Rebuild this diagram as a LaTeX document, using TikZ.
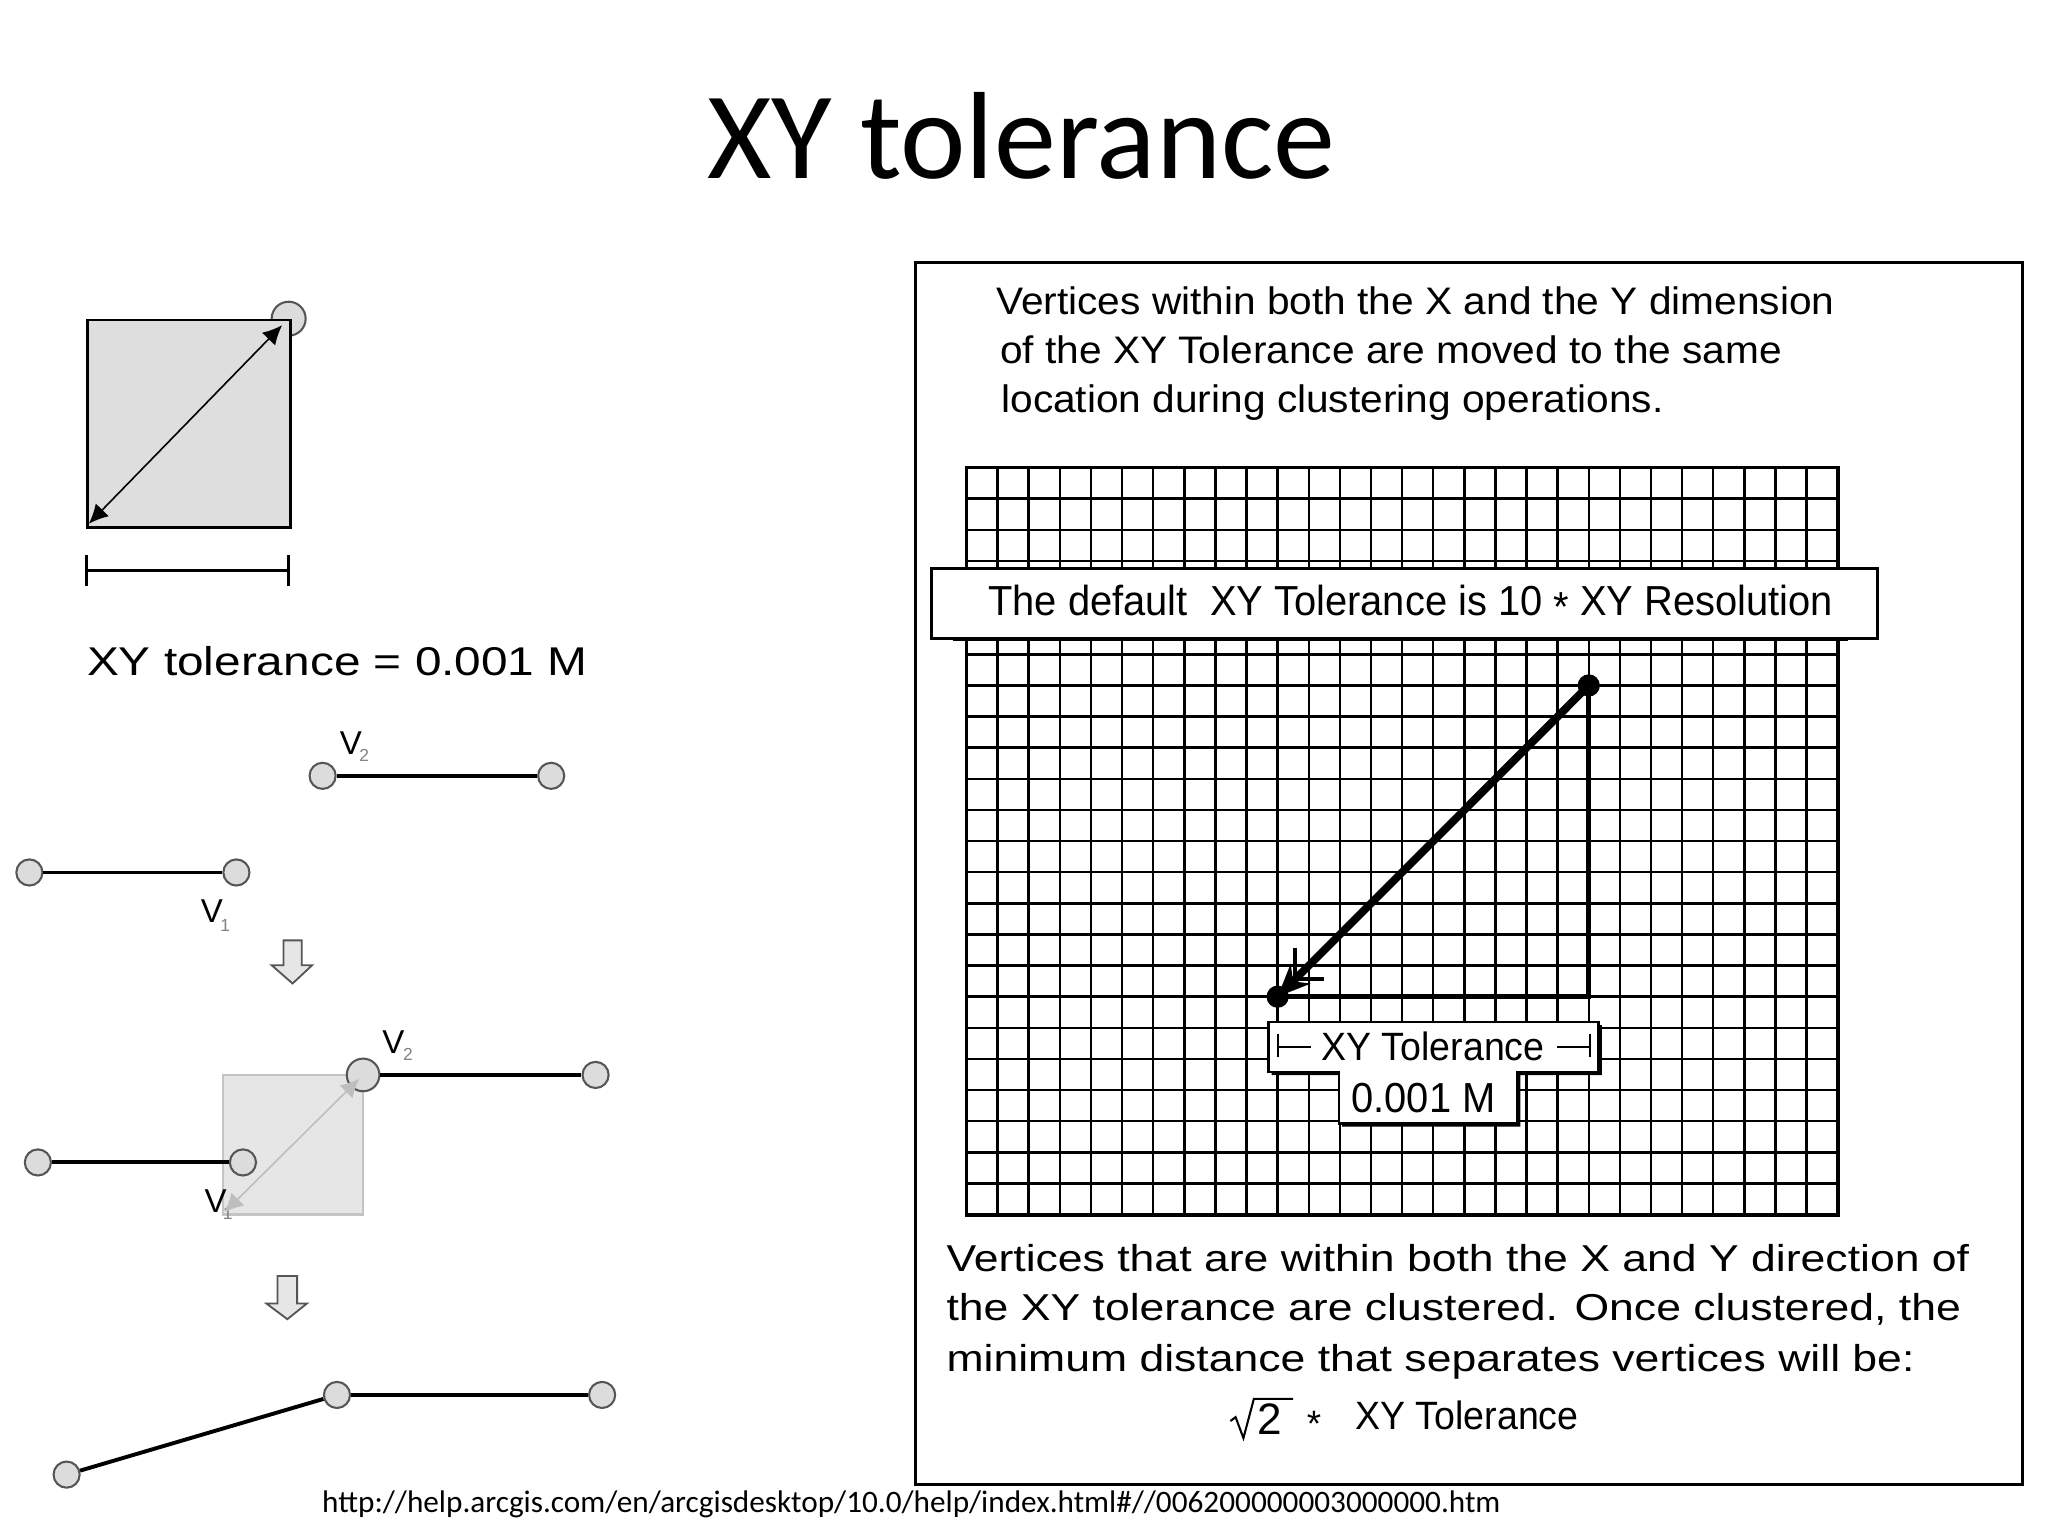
\documentclass[tikz,border=0pt]{standalone}
\usepackage{fontspec}
\setmainfont{Liberation Sans}
\newfontfamily\titlefont{Carlito}
\newfontfamily\wideF[FakeStretch=1.19]{Liberation Sans}
\newfontfamily\midF[FakeStretch=1.06]{Liberation Sans}
\newfontfamily\narF[FakeStretch=0.95]{Liberation Sans}
\usetikzlibrary{arrows.meta,calc}
\definecolor{vfill}{RGB}{220,220,220}
\definecolor{vline}{RGB}{85,85,85}
\definecolor{sqfill}{RGB}{222,222,222}
\definecolor{sqfillb}{RGB}{230,230,230}
\definecolor{sqline}{RGB}{196,196,196}
\definecolor{arrgray}{RGB}{190,190,190}
\definecolor{subgray}{RGB}{130,130,130}
\begin{document}
\begin{tikzpicture}[x=0.01cm,y=-0.01cm,
  vtx/.style={circle,draw=vline,fill=vfill,line width=0.45pt,minimum size=0.2cm,inner sep=0pt},
  seg/.style={line width=0.85pt,black},
  dotv/.style={circle,fill=black,minimum size=0.17cm,inner sep=0pt},
  txt/.style={inner sep=0pt,anchor=base west},
  downarrow/.style={fill=vfill!70,draw=vline,line width=0.4pt},
  gridl/.style={line width=0.55pt},
  dblk/.style={{Latex[length=4.2pt,width=4pt]}-{Latex[length=4.2pt,width=4pt]}},
  dgray/.style={{Latex[length=4pt,width=4pt]}-{Latex[length=4pt,width=4pt]}},
  vfont/.style={font={\fontsize{7.2pt}{8pt}\selectfont}},
  subfont/.style={font={\fontsize{3.8pt}{4pt}\selectfont},text=subgray},
]
\useasboundingbox (0,0) rectangle (1568,1176);
\fill[white] (0,0) rectangle (1568,1176);

% title
\node[inner sep=0pt,anchor=base,font={\titlefont\fontsize{27pt}{32pt}\selectfont}] (title) at (782,136.5) {XY tolerance};

% ---------- left panel: tolerance square ----------
\node[vtx,minimum size=0.26cm] (cv) at (221,244) {};
\node[draw=black,line width=0.6pt,fill=sqfill,minimum width=1.55cm,minimum height=1.59cm,inner sep=0pt,anchor=north west] (sq) at (66,244) {};
\coordinate (dA) at (68,401);
\coordinate (dB) at (216,249);
\draw[line width=0.35pt,dblk] (dA) -- (dB);

\coordinate (b1) at (66,437);
\coordinate (b2) at (221,437);
\draw[line width=0.7pt] (b1) -- (b2);
\draw[line width=0.7pt] ($(b1)+(0,-12)$) -- ($(b1)+(0,12)$);
\draw[line width=0.7pt] ($(b2)+(0,-12)$) -- ($(b2)+(0,12)$);

\node[txt,font={\wideF\fontsize{8.74pt}{10pt}\selectfont}] (tolL) at (66,517) {XY tolerance = 0.001 M};

% row 1
\node[vtx] (p1) at (247,594) {};
\node[vtx] (p2) at (422,594) {};
\draw[seg] (p1) -- (p2);
\node[vtx] (q1) at (22.5,668) {};
\node[vtx] (q2) at (181,668) {};
\draw[seg] (q1) -- (q2);
\node[txt,vfont] (v2a) at (259.5,578) {V};
\node[txt,subfont] (v2as) at (274.5,583) {2};
\node[txt,vfont] (v1a) at (153,706) {V};
\node[txt,subfont] (v1as) at (168,713) {1};

\draw[downarrow] (217,720) -- (231,720) -- (231,739) -- (239,739) -- (224,753) -- (208,739) -- (217,739) -- cycle;

% row 2
\node[draw=sqline,fill=sqfillb,line width=0.5pt,minimum width=1.07cm,minimum height=1.07cm,inner sep=0pt,anchor=north west] (sq2) at (170,822) {};
\node[vtx] (r1) at (29,890) {};
\node[vtx] (r2) at (186,890) {};
\draw[seg] (r1) -- (r2);
\node[vtx,minimum size=0.25cm] (s1) at (278,823) {};
\node[vtx] (s2) at (456,823) {};
\draw[seg] (s1) -- (s2);
\node[txt,vfont] (v2b) at (292,806.5) {V};
\node[txt,subfont] (v2bs) at (308,811.6) {2};
\node[txt,vfont] (v1b) at (156,928) {V};
\node[txt,subfont] (v1bs) at (170,934) {1};
\coordinate (gA) at (172,928);
\coordinate (gB) at (275,826);
\draw[arrgray,line width=0.35pt,dgray] (gA) -- (gB);

\draw[downarrow] (212.5,977) -- (227.5,977) -- (227.5,998) -- (235,998) -- (220,1010) -- (204,998) -- (212.5,998) -- cycle;

% row 3
\node[vtx] (u1) at (51,1129) {};
\node[vtx] (u2) at (258,1068) {};
\node[vtx] (u3) at (461,1068) {};
\draw[seg] (u1) -- (u2);
\draw[seg] (u2) -- (u3);

% URL
\node[txt,font={\titlefont\fontsize{6.8pt}{8pt}\selectfont}] (url) at (246,1158) {http://help.arcgis.com/en/arcgisdesktop/10.0/help/index.html\#//006200000003000000.htm};

% ---------- right panel ----------
\node[draw,line width=0.6pt,minimum width=8.47cm,minimum height=9.35cm,anchor=north west,inner sep=0pt] (frame) at (700,200) {};

\node[txt,font={\midF\fontsize{8.35pt}{10pt}\selectfont}] (t1) at (762,241) {Vertices within both the X and the Y dimension};
\node[txt,font={\midF\fontsize{8.35pt}{10pt}\selectfont}] (t2) at (765,278) {of the XY Tolerance are moved to the same};
\node[txt,font={\midF\fontsize{8.35pt}{10pt}\selectfont}] (t3) at (766,316) {location during clustering operations.};

% grid 28 x 24
\foreach \i in {0,...,28} \draw[gridl] ({740+\i*23.82},358) -- ({740+\i*23.82},930);
\foreach \j in {0,...,24} \draw[gridl] (740,{358+\j*23.83}) -- (1407,{358+\j*23.83});
\draw[line width=0.8pt] (740,358) rectangle (1407,930);

% triangle and tolerance arrow
\node[dotv] (T) at (1216.4,524.8) {};
\node[dotv] (B) at (978.2,763.1) {};
\coordinate (C) at (1216.4,763.1);
\draw[line width=1.1pt] (T.center) -- (C) -- (B.center);
\draw[line width=1.7pt,-{Stealth[length=7pt,width=6pt]}] (T.center) -- (B.center);
\coordinate (P) at ($(B.center)!0.19cm!(T.center)$);
\draw[line width=0.8pt] ($(P)+(0,-24)$) -- (P) -- ($(P)+(22,0)$);

% banner
\draw[line width=0.8pt] (730,489.5) -- (1415,489.5);
\node[draw,fill=white,line width=0.6pt,minimum width=7.24cm,minimum height=0.54cm,anchor=north west,inner sep=0pt] (ban) at (712,434) {};
\node[txt,font={\narF\fontsize{9.14pt}{11pt}\selectfont}] (bantxt) at (756,471) {The default\ \ XY Tolerance is 10 \raisebox{-0.14em}{*} XY Resolution};

% tolerance label box
\fill[black] (973.5,784.9) -- (1226.5,784.9) -- (1226.5,823.1) -- (1164,823.1) -- (1164,862.5) -- (1027.5,862.5) -- (1027.5,823.1) -- (973.5,823.1) -- cycle;
\draw[fill=white,line width=0.55pt] (971,782.4) -- (1224,782.4) -- (1224,820.6) -- (1161.5,820.6) -- (1161.5,860) -- (1025,860) -- (1025,820.6) -- (971,820.6) -- cycle;
\coordinate (l1) at (978.4,801.5);
\coordinate (l2) at (1217,801.5);
\draw[line width=0.45pt] ($(l1)+(0,-10)$) -- ($(l1)+(0,8)$);
\draw[line width=0.45pt] (l1) -- ++(25,0);
\draw[line width=0.45pt] ($(l2)+(0,-10)$) -- ($(l2)+(0,8)$);
\draw[line width=0.45pt] (l2) -- ++(-25,0);
\node[txt,font={\narF\fontsize{8.6pt}{10pt}\selectfont}] (xyt) at (1011,811.6) {XY Tolerance};
\node[txt,font={\narF\fontsize{9.14pt}{10pt}\selectfont}] (val) at (1034,852) {0.001 M};

% bottom text
\node[txt,font={\wideF\fontsize{8.15pt}{10pt}\selectfont}] (bt1) at (724,973.7) {Vertices that are within both the X and Y direction of};
\node[txt,font={\wideF\fontsize{8.15pt}{10pt}\selectfont}] (bt2) at (724,1011.2) {the XY tolerance are clustered. Once clustered, the};
\node[txt,font={\wideF\fontsize{8.15pt}{10pt}\selectfont}] (bt3) at (724,1050.3) {minimum distance that separates vertices will be:};

\draw[line width=0.45pt] (942,1088) -- (946,1085) -- (952,1101) -- (960,1071) -- (990,1071);
\node[txt,font={\fontsize{9.6pt}{10pt}\selectfont}] (two) at (962,1098) {2};
\node[inner sep=0pt,anchor=base,font={\fontsize{8pt}{9pt}\selectfont}] (ast) at (1006,1100) {*};
\node[txt,font={\narF\fontsize{8.6pt}{10pt}\selectfont}] (bt4) at (1037,1094.5) {XY Tolerance};
\end{tikzpicture}
\end{document}
